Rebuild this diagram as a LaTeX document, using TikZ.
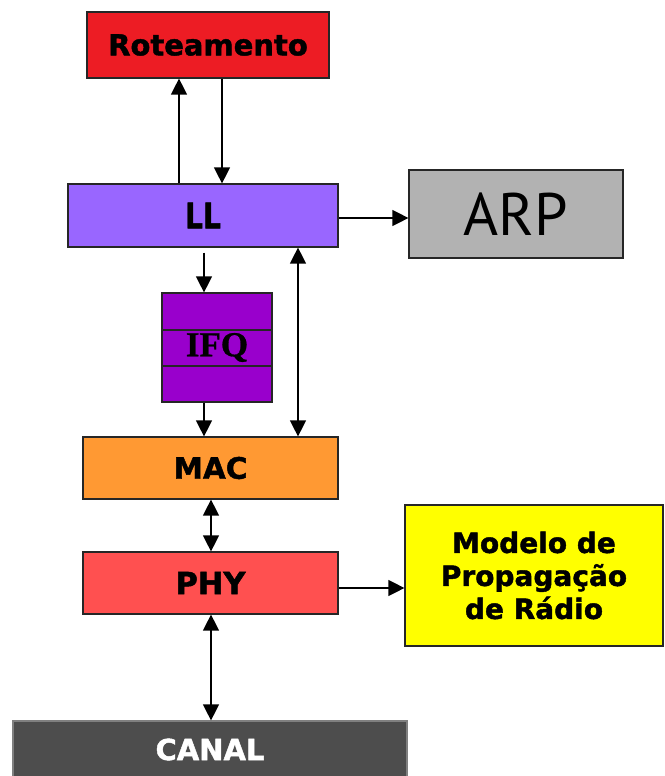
\documentclass[tikz,border=0pt]{standalone}
\usepackage{fontspec}
\setmainfont{DejaVu Sans}[BoldFeatures={FakeBold=1.5}]
\newfontfamily\serifq{Liberation Serif}[BoldFeatures={FakeBold=0.8}]
\newfontfamily\arpfont{PT Sans}
\usetikzlibrary{arrows.meta}
\definecolor{cRot}{HTML}{ED1C24}
\definecolor{cLL}{HTML}{9966FF}
\definecolor{cARP}{HTML}{B2B2B2}
\definecolor{cIFQ}{HTML}{9900CC}
\definecolor{cMAC}{HTML}{FF9933}
\definecolor{cPHY}{HTML}{FF5050}
\definecolor{cMod}{HTML}{FFFF00}
\definecolor{cCan}{HTML}{4D4D4D}
\tikzset{
  blk/.style={draw=black!85, line width=1.2pt, rectangle, inner sep=0pt, font=\fontsize{29.5}{33}\selectfont\bfseries},
  arr/.style={line width=1.3pt, -{Triangle[width=16pt,length=16pt]}},
  darr/.style={line width=1.3pt, {Triangle[width=16pt,length=16pt]}-{Triangle[width=16pt,length=16pt]}}
}
\begin{document}
\begin{tikzpicture}[x=1pt,y=-1pt]
\useasboundingbox (0,0) rectangle (664,776);
\node[blk, fill=cRot, minimum width=242pt, minimum height=66pt, font=\fontsize{29}{33}\selectfont\bfseries] (rot) at (208,45) {Roteamento};
\node[blk, fill=cLL, minimum width=270pt, minimum height=63pt] (ll) at (203,215.5) {\scalebox{0.95}[1.2]{LL}};
\node[blk, fill=cARP, minimum width=214pt, minimum height=88pt, font=\arpfont\fontsize{60}{60}\selectfont] (arp) at (516,214) {ARP};
\node[blk, fill=cIFQ, minimum width=110pt, minimum height=109pt, font=\serifq\bfseries\fontsize{35}{35}\selectfont] (ifq) at (217,347.5) {IFQ};
\draw[line width=1.2pt, draw=black!85] (ifq.west |- 0,330) -- (ifq.east |- 0,330);
\draw[line width=1.2pt, draw=black!85] (ifq.west |- 0,366) -- (ifq.east |- 0,366);
\node[blk, fill=cMAC, minimum width=255pt, minimum height=62pt] (mac) at (210.5,468) {MAC};
\node[blk, fill=cPHY, minimum width=255pt, minimum height=62pt, font=\fontsize{30.5}{33}\selectfont\bfseries] (phy) at (210.5,583) {PHY};
\node[blk, fill=cMod, minimum width=258pt, minimum height=141pt, align=center, font=\fontsize{28}{33}\selectfont\bfseries] (mod) at (534,575.5) {Modelo de\\Propagação\\de Rádio};
\node[blk, draw=black!50, fill=cCan, text=white, minimum width=394pt, minimum height=57pt, font=\fontsize{29}{29}\selectfont\bfseries] (can) at (210,749.5) {CANAL};
% connectors
\coordinate (xa) at (179,0);
\coordinate (xb) at (222,0);
\coordinate (xc) at (204,0);
\coordinate (xd) at (298,0);
\coordinate (xe) at (211,0);
\coordinate (ya) at (0,218);
\coordinate (yb) at (0,588);
\draw[arr] (ll.north -| xa) -- (rot.south -| xa);
\draw[arr] (rot.south -| xb) -- (ll.north -| xb);
\draw[arr] (ll.east |- ya) -- (arp.west |- ya);
\draw[arr, shorten <=5pt] (ll.south -| xc) -- (ifq.north -| xc);
\draw[arr] (ifq.south -| xc) -- (mac.north -| xc);
\draw[darr] (ll.south -| xd) -- (mac.north -| xd);
\draw[darr] (mac.south -| xe) -- (phy.north -| xe);
\draw[arr] (phy.east |- yb) -- (mod.west |- yb);
\draw[darr] (phy.south -| xe) -- (can.north -| xe);
\end{tikzpicture}
\end{document}
